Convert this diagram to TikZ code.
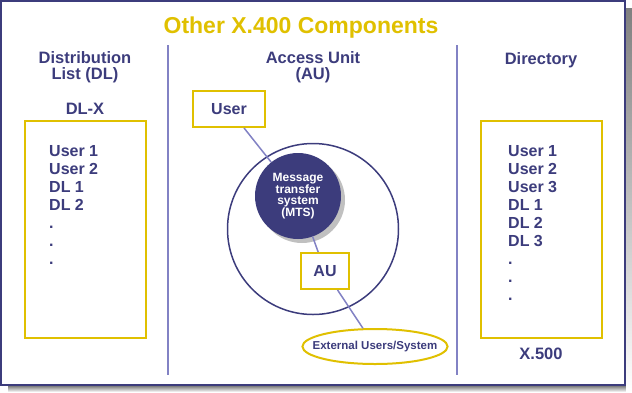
\documentclass[tikz,border=0pt]{standalone}
\usepackage{fontspec}
\setmainfont{Liberation Sans}
\usetikzlibrary{shapes.geometric,shadows}
\definecolor{navy}{RGB}{60,60,124}
\definecolor{gold}{RGB}{224,192,0}
\definecolor{lav}{RGB}{130,130,196}
\definecolor{shade}{RGB}{192,192,192}
\tikzset{
	head/.style={font=\fontsize{16.5}{16}\selectfont\bfseries, text=navy, align=center, inner sep=0pt},
	entries/.style={font=\fontsize{16}{18}\selectfont\bfseries, text=navy, align=left, anchor=north west, inner sep=0pt},
	ybox/.style={draw=gold, line width=2pt, fill=white, font=\fontsize{16}{16}\selectfont\bfseries, text=navy, inner sep=0pt},
	link/.style={draw=lav, line width=1.5pt},
}
\begin{document}
\begin{tikzpicture}[x=1pt, y=-1pt]
	\useasboundingbox (0,0) rectangle (632,392);
	\fill[shade] (8,386) rectangle (632,392);
	\fill[shade] (626,8) rectangle (632,392);
	\draw[navy, line width=2pt] (1,1) rectangle (625,385);
	\draw[lav, line width=2pt] (168,45) -- (168,375);
	\draw[lav, line width=2pt] (457,45) -- (457,375);
	\node (title) [anchor=base, font=\fontsize{23}{23}\selectfont\bfseries, text=gold] at (301,33) {Other X.400 Components};
	% distribution list
	\node (dlhead) [head, anchor=north] at (85,51) {Distribution\\List (DL)};
	\node (dlx) [head, anchor=base] at (85,114) {DL-X};
	\node (dlbox) [ybox, minimum width=121, minimum height=217] at (85,229) {};
	\node (dllist) [entries] at (49,145) {User 1\\User 2\\DL 1\\DL 2\\.\\.\\.};
	% access unit
	\node (auhead) [head, anchor=north] at (313,51) {Access Unit\\(AU)};
	\node (ring) [circle, draw=navy, line width=1.5pt, minimum size=171] at (313,229) {};
	\node (user) [ybox, minimum width=72, minimum height=36] at (229,109) {User};
	\node (mts) [circle, fill=navy, minimum size=86, inner sep=0pt, text=white, align=center,
		font=\fontsize{12}{11.5}\selectfont\bfseries,
		drop shadow={shadow xshift=4pt, shadow yshift=-4pt, fill=shade, opacity=1}] at (298,196) {Message\\transfer\\system\\(MTS)};
	\node (au) [ybox, minimum width=48, minimum height=36] at (325,271) {AU};
	\node (ext) [ellipse, draw=gold, line width=2pt, fill=white, minimum height=35, inner xsep=-11pt, inner ysep=0pt,
		font=\fontsize{11.5}{11.5}\selectfont\bfseries, text=navy] at (375,346.5) {External Users/System};
	\draw[link] (user) -- (mts);
	\draw[link] (mts) -- (au);
	\draw[link] (au) -- (ext);
	% directory
	\node (dirhead) [head, anchor=base] at (541,64) {Directory};
	\node (dirbox) [ybox, minimum width=121, minimum height=217] at (541,229) {};
	\node (dirlist) [entries] at (508,145) {User 1\\User 2\\User 3\\DL 1\\DL 2\\DL 3\\.\\.\\.};
	\node (x500) [head, anchor=base] at (541,359) {X.500};
\end{tikzpicture}
\end{document}
